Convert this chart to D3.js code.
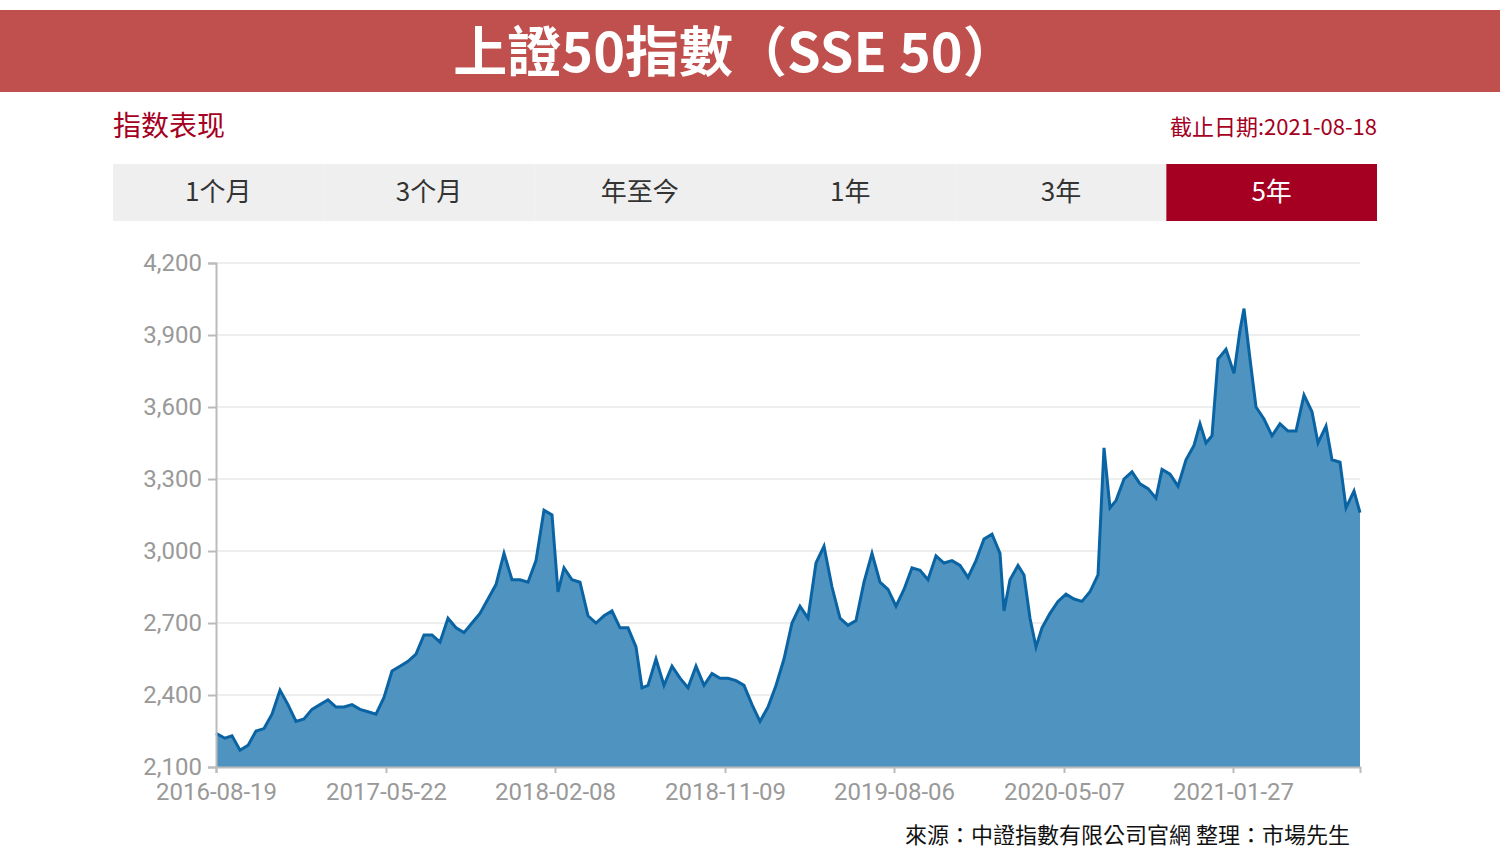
<!DOCTYPE html>
<html><head><meta charset="utf-8">
<script src="https://cdn.jsdelivr.net/npm/d3@7"></script>
<style>body{margin:0;background:#fff;font-family:"Noto Sans CJK TC","Noto Sans",sans-serif}</style>
</head><body><svg id="c" width="1500" height="861"></svg>
<script>
const tabs=["1个月","3个月","年至今","1年","3年","5年"];
const tickLabels=["2016-08-19","2017-05-22","2018-02-08","2018-11-09","2019-08-06","2020-05-07","2021-01-27"];
const tickDays=[0,170,339,509,678,848,1017];
const yTicks=[2100,2400,2700,3000,3300,3600,3900,4200];
const days=[0,9,16,24,32,40,48,56,64,72,80,88,96,104,112,120,128,136,144,152,160,168,176,184,192,200,208,216,224,232,240,248,256,264,272,280,288,296,304,312,320,328,336,342,348,356,364,372,380,388,396,404,412,420,426,432,440,448,456,464,472,480,488,496,504,512,520,528,536,544,552,560,568,576,584,592,600,608,616,624,632,640,648,656,664,672,680,688,696,704,712,720,728,736,744,752,760,768,776,784,788,794,802,808,814,820,826,834,842,850,858,866,874,882,888,894,900,908,916,924,932,940,946,954,962,970,978,984,990,996,1002,1010,1018,1024,1028,1034,1040,1048,1056,1064,1072,1080,1088,1096,1102,1110,1116,1124,1130,1138,1144];
const values=[2240,2220,2230,2170,2190,2250,2260,2320,2420,2360,2290,2300,2340,2360,2380,2350,2350,2360,2340,2330,2320,2390,2500,2520,2540,2570,2650,2650,2620,2720,2680,2660,2700,2740,2800,2860,2990,2880,2880,2870,2960,3170,3150,2830,2930,2880,2870,2730,2700,2730,2750,2680,2680,2600,2430,2440,2550,2440,2520,2470,2430,2520,2440,2490,2470,2470,2460,2440,2360,2290,2350,2440,2550,2700,2770,2720,2950,3020,2850,2720,2690,2710,2870,2990,2870,2840,2770,2840,2930,2920,2880,2980,2950,2960,2940,2890,2960,3050,3070,2990,2750,2880,2940,2900,2720,2600,2680,2740,2790,2820,2800,2790,2830,2900,3430,3180,3210,3300,3330,3280,3260,3220,3340,3320,3270,3380,3440,3530,3450,3480,3800,3840,3740,3920,4010,3800,3600,3550,3480,3530,3500,3500,3650,3580,3450,3520,3380,3370,3180,3250,3160];
const svg=d3.select("#c");
const red="#a50021";
svg.append("rect").attr("x",0).attr("y",10).attr("width",1500).attr("height",82).attr("fill","#c0504d");
svg.append("text").attr("x",735).attr("y",72).attr("text-anchor","middle").attr("fill","#fff").attr("font-size",54).attr("font-weight","bold").text("上證50指數（SSE 50）");
svg.append("text").attr("x",113).attr("y",136).attr("fill",red).attr("font-size",28).text("指数表现");
svg.append("text").attr("x",1377).attr("y",135).attr("text-anchor","end").attr("fill",red).attr("font-size",22).text("截止日期:2021-08-18");
const tw=(1377-113)/6;
tabs.forEach((t,i)=>{
  const sel=i===5;
  svg.append("rect").attr("x",113+i*tw).attr("y",164).attr("width",tw).attr("height",57).attr("fill",sel?red:"#efefef");
  svg.append("text").attr("x",113+i*tw+tw/2).attr("y",201).attr("text-anchor","middle").attr("fill",sel?"#fff":"#333").attr("font-size",26).text(t);
});
const x=d3.scaleLinear().domain([0,1144]).range([216,1360]);
const y=d3.scaleLinear().domain([2100,4200]).range([767,263]);
const g=svg.append("g");
yTicks.forEach(v=>{ if(v>2100) g.append("line").attr("x1",216).attr("x2",1360).attr("y1",y(v)).attr("y2",y(v)).attr("stroke","#eee").attr("stroke-width",2);});
const data=days.map((d,i)=>[d,values[i]]);
g.append("path").datum(data).attr("fill","#4f94c1").attr("d",d3.area().x(d=>x(d[0])).y0(y(2100)).y1(d=>y(d[1])));
g.append("path").datum(data).attr("fill","none").attr("stroke","#0a64a4").attr("stroke-width",3).attr("d",d3.line().x(d=>x(d[0])).y(d=>y(d[1])));
const ya=svg.append("g").attr("transform","translate(216,0)").call(d3.axisLeft(y).tickValues(yTicks).tickFormat(d3.format(",")).tickSize(8).tickPadding(6));
const xa=svg.append("g").attr("transform","translate(0,767)").call(d3.axisBottom(x).tickValues(tickDays).tickFormat((d,i)=>tickLabels[i]).tickSize(6));
[ya,xa].forEach(a=>{a.selectAll("path,line").attr("stroke","#bbb").attr("stroke-width",2);a.selectAll("text").attr("fill","#999").attr("font-size",24).attr("font-family","Roboto,'Noto Sans',sans-serif");});
ya.selectAll("text").attr("dy","0.3em");
xa.selectAll("text").attr("dy","1em");
svg.append("text").attr("x",1350).attr("y",843).attr("text-anchor","end").attr("fill","#111").attr("font-size",22).text("來源：中證指數有限公司官網 整理：市場先生");
</script></body></html>
